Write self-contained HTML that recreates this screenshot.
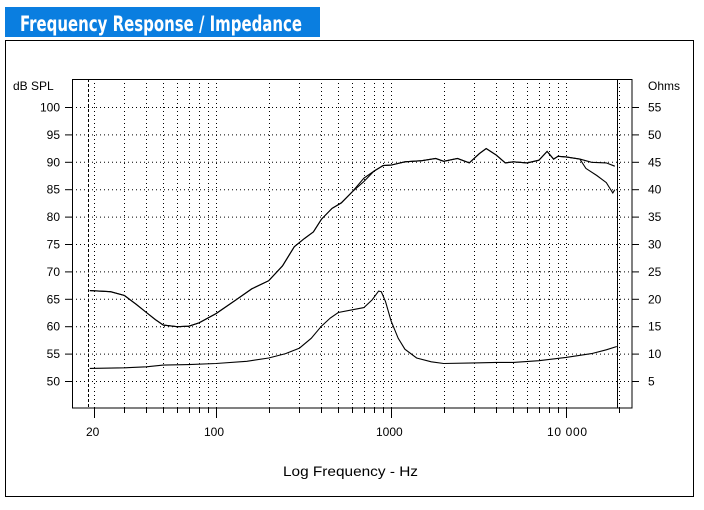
<!DOCTYPE html>
<html><head><meta charset="utf-8"><style>
body{margin:0;background:#fff;width:704px;height:505px;overflow:hidden}
text{font-family:"Liberation Sans",sans-serif;font-size:12px;fill:#000}
</style></head><body>
<svg id="s" width="704" height="505" xmlns="http://www.w3.org/2000/svg">
<rect x="0" y="0" width="704" height="505" fill="#fff"/>
<rect x="5" y="7" width="315" height="30" fill="#0a7ee0"/>
<text x="20" y="31" style="font-size:21px;font-weight:bold;fill:#fff;font-family:'DejaVu Sans Condensed','Liberation Sans Narrow',sans-serif" textLength="282" lengthAdjust="spacingAndGlyphs">Frequency Response / Impedance</text>
<rect x="5.5" y="40.5" width="688" height="456" fill="none" stroke="#000"/>
<g id="g"></g>
<text x="13" y="90">dB SPL</text>
<text x="648" y="90">Ohms</text>
<text x="283" y="476" style="font-size:14px" textLength="135" lengthAdjust="spacingAndGlyphs">Log Frequency - Hz</text>
<text x="86" y="436">20</text>
<text x="204" y="436">100</text>
<text x="376" y="436">1000</text>
<text x="547" y="436" textLength="40">10 000</text>
</svg>
<script>
var g=document.getElementById('g'),h='';
function X(f){return 216+175*(Math.log10(f)-2);}
function Y(d){return 107+(100-d)*274/50;}
for(var d=50;d<=100;d+=5){var y=Y(d)+.5;
h+='<line x1="72" x2="632" y1="'+y+'" y2="'+y+'" stroke="#000" stroke-dasharray="1,3"/>';
h+='<line x1="65" x2="72" y1="'+y+'" y2="'+y+'" stroke="#000"/>';
h+='<line x1="632" x2="639" y1="'+y+'" y2="'+y+'" stroke="#000"/>';
h+='<text x="60" y="'+(y+4)+'" text-anchor="end">'+d+'</text>';
h+='<text x="648" y="'+(y+4)+'">'+(d-45)+'</text>';}
var fs=[];for(var dec=10;dec<=10000;dec*=10)for(var k=1;k<10;k++){var f=dec*k;if(f>=20&&f<=20000)fs.push(f);}
fs.forEach(function(f){var x=Math.round(X(f))+.5;
h+='<line x1="'+x+'" x2="'+x+'" y1="79" y2="408" stroke="#000" stroke-dasharray="1,3"/>';
var big=(f==100||f==1000||f==10000||f==20);
h+='<line x1="'+x+'" x2="'+x+'" y1="408" y2="'+(big?418:413)+'" stroke="#000"/>';});
h+='<line x1="88.5" x2="88.5" y1="79" y2="408" stroke="#000" stroke-dasharray="3,2"/>';
h+='<rect x="72.5" y="79.5" width="559.5" height="328.5" fill="none" stroke="#000"/>';
h+='<line x1="617.5" x2="617.5" y1="79" y2="408" stroke="#000"/>';
function P(a){return '<polyline fill="none" stroke="#000" stroke-width="1.1" points="'+a.map(function(p){return X(p[0]).toFixed(1)+','+Y(p[1]).toFixed(1)}).join(' ')+'"/>';}
var spl=[[19,66.5],[25,66.3],[30,65.6],[35,64],[40,62.5],[45,61.2],[50,60.2],[60,59.9],[70,60],[80,60.6],[100,62.3],[130,64.8],[160,66.8],[200,68.3],[240,71],[280,74.5],[320,76],[360,77.2],[400,79.5],[460,81.5],[520,82.5],[600,84.5],[700,87],[800,88.3],[900,89.3],[1000,89.4],[1200,90],[1500,90.2],[1800,90.6],[2000,90.1],[2400,90.6],[2800,89.8],[3200,91.5],[3500,92.4],[4000,91.2],[4500,89.8],[5000,90],[6000,89.8],[7000,90.3],[7800,91.9],[8500,90.5],[9000,91],[10000,90.9],[12000,90.5]];
var a=spl.concat([[14000,89.9],[17000,89.8],[19000,89.2]]);
var b=spl.map(function(p){return [p[0],p[1]-(p[0]>600&&p[0]<800?0.6:0)]}).concat([[13000,88.8],[15000,87.5],[17000,86.2],[18500,84.3],[19000,84.9]]);
var imp=[[19,52.3],[30,52.4],[40,52.6],[50,52.9],[70,53],[100,53.2],[150,53.6],[200,54.2],[250,55],[300,56],[350,57.8],[400,60],[450,61.5],[500,62.5],[600,63],[700,63.4],[780,64.8],[850,66.4],[880,66.3],[930,64.5],[1000,61],[1100,57.8],[1200,55.8],[1400,54.2],[1700,53.5],[2000,53.2],[3000,53.3],[4000,53.4],[5000,53.4],[7000,53.7],[10000,54.3],[14000,55],[17000,55.7],[19500,56.3]];
h+=P(a)+P(b)+P(imp);
g.innerHTML=h;
</script>
</body></html>
